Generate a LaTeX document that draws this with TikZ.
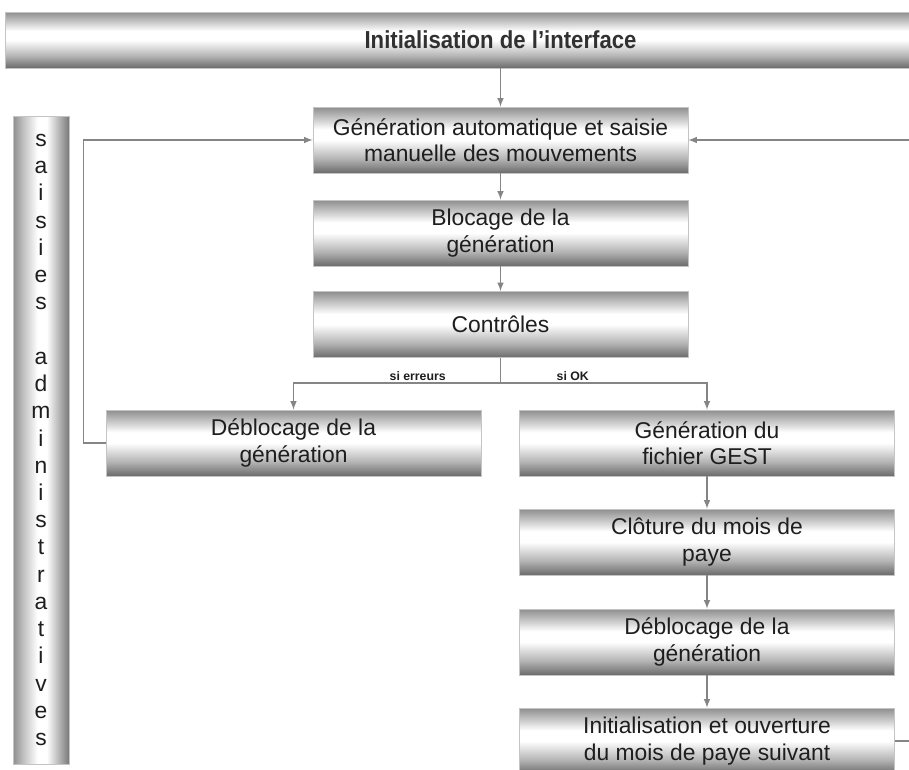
\documentclass[tikz,border=0pt]{standalone}
\usepackage{fontspec}
\setmainfont{Liberation Sans}
\usetikzlibrary{positioning}
\definecolor{edgegray}{HTML}{C4C4C4}
\definecolor{shadegray}{HTML}{8E8E8E}
\definecolor{linegray}{HTML}{858585}
\definecolor{textgray}{HTML}{1E1E1E}
\pgfdeclareverticalshading{boxshade}{100bp}{color(0bp)=(shadegray!75!black);
  color(25bp)=(shadegray!75!black); color(36bp)=(shadegray!65!white);
  color(50bp)=(white); color(58bp)=(white); color(75bp)=(shadegray);
  color(100bp)=(shadegray)}
\pgfdeclarehorizontalshading{barshade}{100bp}{color(0bp)=(shadegray);
  color(25bp)=(shadegray); color(33bp)=(shadegray!60!white); color(47bp)=(white);
  color(55bp)=(white); color(75bp)=(shadegray!85!black); color(100bp)=(shadegray!85!black)}
\tikzset{
  procbox/.style={draw=edgegray, shading=boxshade, minimum width=7.5cm,
    minimum height=1.32cm, inner sep=0pt, align=center, text=textgray,
    font=\fontsize{13}{15}\selectfont},
  banner/.style={draw=edgegray, shading=boxshade, minimum width=19.82cm,
    minimum height=1.12cm, inner sep=0pt, text=textgray!80!gray,
    font=\fontsize{14}{16}\selectfont\bfseries},
  sidebar/.style={draw=edgegray, shading=barshade, minimum width=1.12cm,
    minimum height=12.96cm, inner sep=0pt, align=center, text=textgray,
    font=\fontsize{13}{15.5}\selectfont},
  conn/.style={draw=linegray, line width=0.7pt},
  lbl/.style={text=textgray, font=\fontsize{7}{8}\selectfont\bfseries, inner sep=1pt}
}
\begin{document}
\begin{tikzpicture}[x=0.02cm, y=-0.02cm, >=latex]
  \clip (0,0) rectangle (909,769);

  % Header and side band
  \node[banner] (init) at (500.5,40) {\scalebox{0.9}[1]{Initialisation de l’interface}};
  \node[sidebar] (admin) at (41,440) {s\\a\\i\\s\\i\\e\\s\\ \\a\\d\\m\\i\\n\\i\\s\\t\\r\\a\\t\\i\\v\\e\\s};

  % Main chain
  \node[procbox] (gen) at (500.5,140) {Génération automatique et saisie\\manuelle des mouvements};
  \node[procbox] (bloc) at (500.5,233) {Blocage de la\\génération};
  \node[procbox] (ctrl) at (500.5,324.5) {Contrôles};
  \draw[conn,->] (init) -- (gen);
  \draw[conn,->] (gen) -- (bloc);
  \draw[conn,->] (bloc) -- (ctrl);

  % Branches after the checks
  \node[procbox] (debl) at (293.5,443) {Déblocage de la\\génération};
  \node[procbox] (gest) at (707,443) {Génération du\\fichier GEST};
  \coordinate (split) at (500.5,383);
  \draw[conn] (ctrl) -- (split);
  \draw[conn,->] (split) -| (debl) node[pos=0.2, above, lbl] {si erreurs};
  \draw[conn,->] (split) -| (gest) node[pos=0.175, above, lbl] {si OK};

  % Closing chain
  \node[procbox] (clot) at (707,542) {Clôture du mois de\\paye};
  \node[procbox] (debl2) at (707,642) {Déblocage de la\\génération};
  \node[procbox] (ouvr) at (707,741) {Initialisation et ouverture\\du mois de paye suivant};
  \draw[conn,->] (gest) -- (clot);
  \draw[conn,->] (clot) -- (debl2);
  \draw[conn,->] (debl2) -- (ouvr);

  % Loops back
  \coordinate (rtop) at (930,140);
  \draw[conn,->] (debl.west) -- ++(-22,0) |- (gen.west);
  \draw[conn,->] (ouvr.east) -| (rtop) -- (gen.east);
\end{tikzpicture}
\end{document}
